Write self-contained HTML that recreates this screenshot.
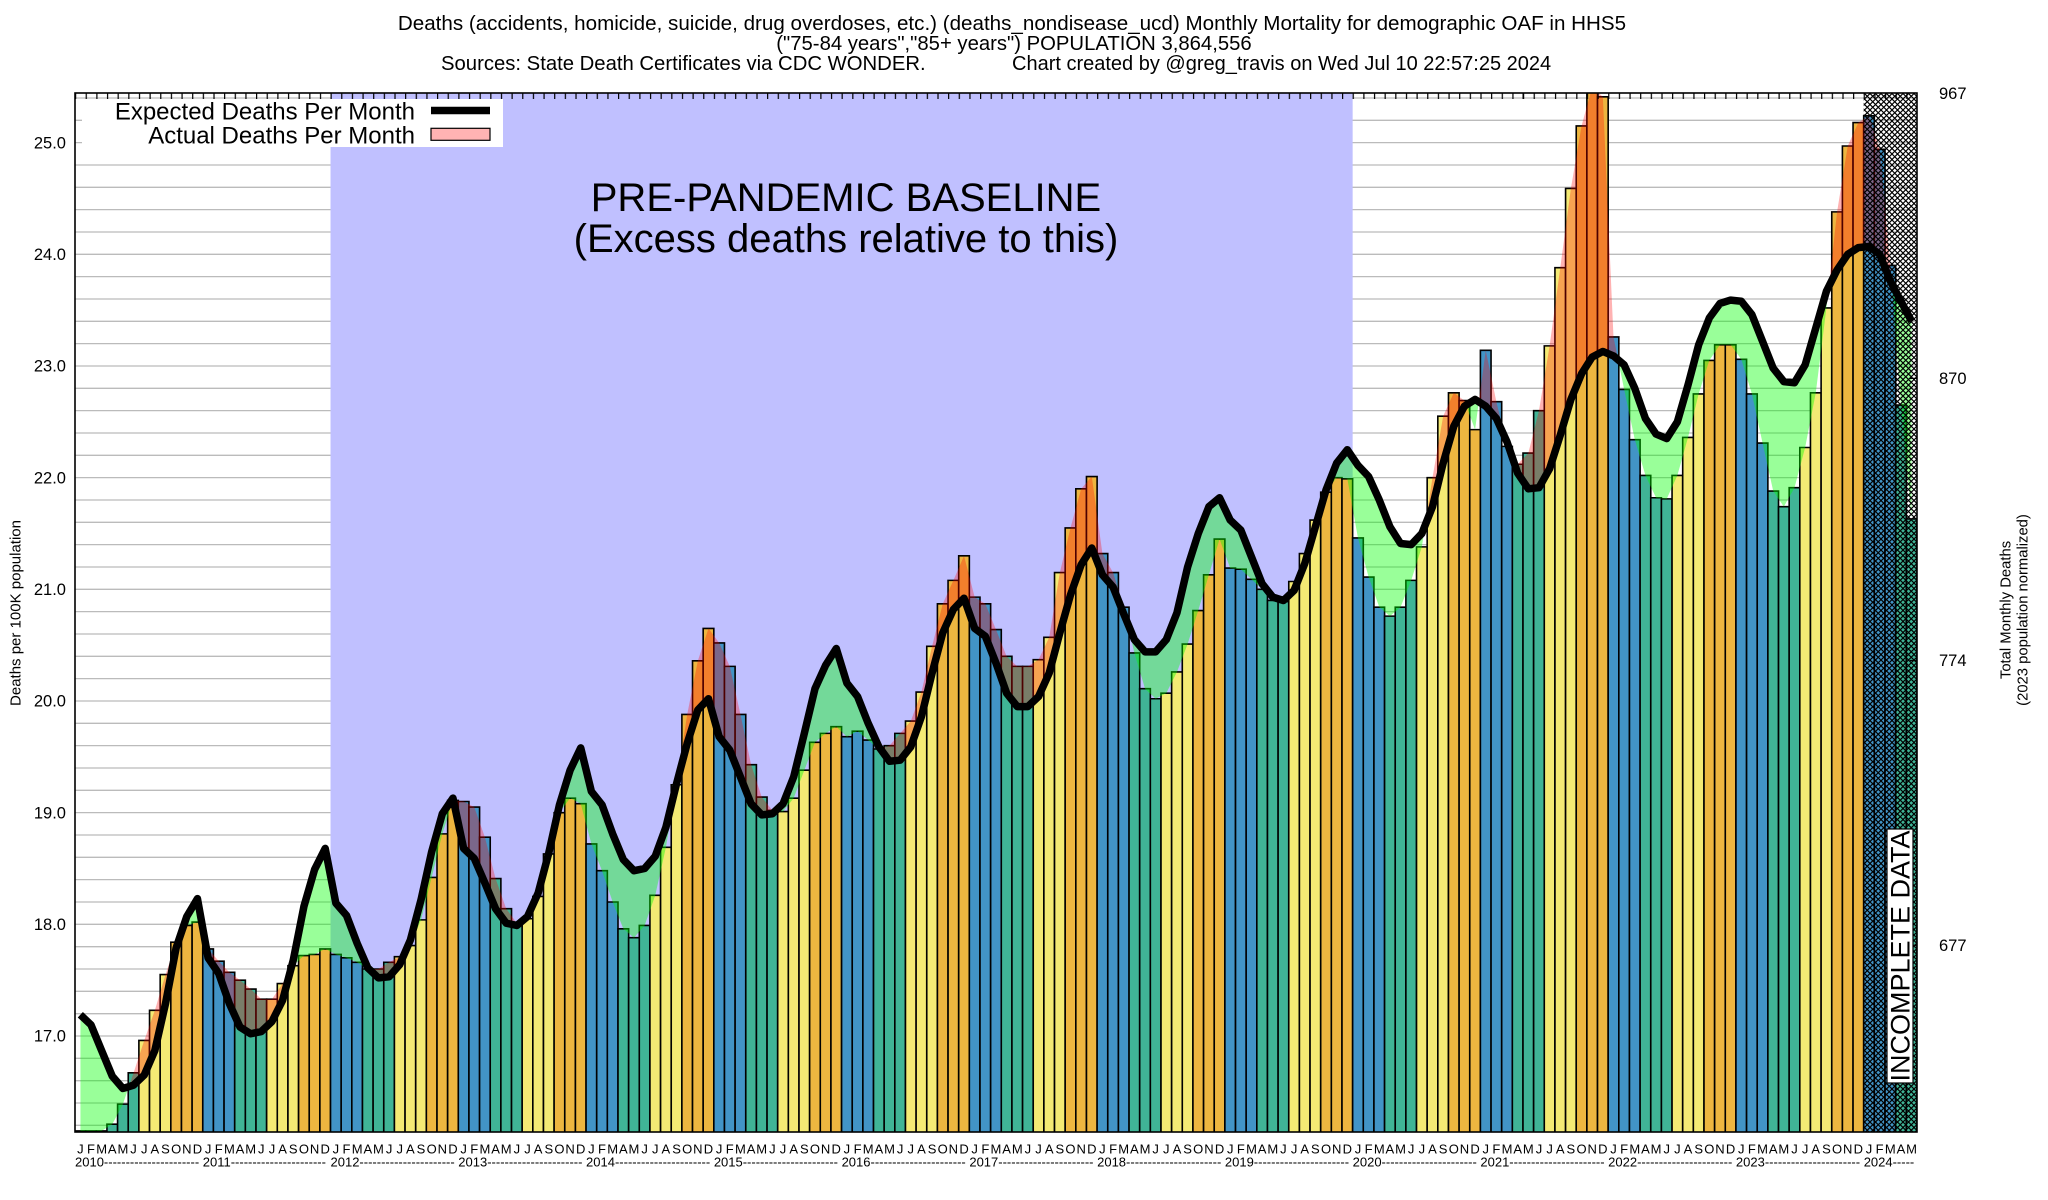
<!DOCTYPE html>
<html><head><meta charset="utf-8">
<style>
html,body{margin:0;padding:0;background:#fff;overflow:hidden;width:2048px;height:1200px;}
svg{display:block;font-family:"Liberation Sans",Arial,Helvetica,sans-serif;}
.b{fill:#4294c6}.t{fill:#40b496}.y{fill:#f4ea74}.o{fill:#edb640}
.bars rect{stroke:#000;stroke-width:1.6;vector-effect:non-scaling-stroke}
.ml{font-size:13px;text-anchor:middle}
.yr{font-size:13px}
.tl{font-size:16.5px}
</style></head><body>
<svg width="2048" height="1200" viewBox="0 0 2048 1200" xmlns="http://www.w3.org/2000/svg">
<defs>
<clipPath id="pc"><rect x="75" y="93" width="1842" height="1039"/></clipPath>
<clipPath id="aE" clipPathUnits="userSpaceOnUse"><polygon points="0.5,17.19 1.5,17.10 2.5,16.87 3.5,16.64 4.5,16.53 5.5,16.56 6.5,16.65 7.5,16.87 8.5,17.29 9.5,17.79 10.5,18.07 11.5,18.23 12.5,17.70 13.5,17.56 14.5,17.29 15.5,17.08 16.5,17.02 17.5,17.04 18.5,17.13 19.5,17.32 20.5,17.68 21.5,18.16 22.5,18.49 23.5,18.68 24.5,18.19 25.5,18.08 26.5,17.83 27.5,17.61 28.5,17.52 29.5,17.53 30.5,17.64 31.5,17.86 32.5,18.22 33.5,18.65 34.5,18.99 35.5,19.13 36.5,18.68 37.5,18.59 38.5,18.37 39.5,18.14 40.5,18.01 41.5,17.99 42.5,18.07 43.5,18.28 44.5,18.64 45.5,19.07 46.5,19.38 47.5,19.58 48.5,19.19 49.5,19.07 50.5,18.81 51.5,18.58 52.5,18.48 53.5,18.50 54.5,18.61 55.5,18.87 56.5,19.26 57.5,19.62 58.5,19.92 59.5,20.02 60.5,19.68 61.5,19.56 62.5,19.32 63.5,19.08 64.5,18.98 65.5,18.99 66.5,19.08 67.5,19.32 68.5,19.71 69.5,20.11 70.5,20.32 71.5,20.47 72.5,20.16 73.5,20.04 74.5,19.80 75.5,19.59 76.5,19.46 77.5,19.47 78.5,19.59 79.5,19.86 80.5,20.25 81.5,20.61 82.5,20.82 83.5,20.92 84.5,20.65 85.5,20.58 86.5,20.34 87.5,20.07 88.5,19.95 89.5,19.95 90.5,20.04 91.5,20.25 92.5,20.61 93.5,20.95 94.5,21.22 95.5,21.37 96.5,21.13 97.5,21.02 98.5,20.78 99.5,20.55 100.5,20.44 101.5,20.44 102.5,20.55 103.5,20.79 104.5,21.20 105.5,21.50 106.5,21.74 107.5,21.82 108.5,21.62 109.5,21.53 110.5,21.29 111.5,21.05 112.5,20.93 113.5,20.90 114.5,20.99 115.5,21.23 116.5,21.56 117.5,21.89 118.5,22.13 119.5,22.25 120.5,22.11 121.5,22.01 122.5,21.80 123.5,21.56 124.5,21.41 125.5,21.40 126.5,21.50 127.5,21.74 128.5,22.13 129.5,22.46 130.5,22.64 131.5,22.70 132.5,22.64 133.5,22.53 134.5,22.32 135.5,22.04 136.5,21.90 137.5,21.91 138.5,22.08 139.5,22.38 140.5,22.70 141.5,22.93 142.5,23.08 143.5,23.13 144.5,23.09 145.5,23.01 146.5,22.80 147.5,22.53 148.5,22.39 149.5,22.35 150.5,22.50 151.5,22.83 152.5,23.19 153.5,23.43 154.5,23.56 155.5,23.59 156.5,23.58 157.5,23.46 158.5,23.22 159.5,22.98 160.5,22.86 161.5,22.85 162.5,23.01 163.5,23.34 164.5,23.67 165.5,23.86 166.5,24.00 167.5,24.06 168.5,24.07 169.5,24.00 170.5,23.76 171.5,23.58 172.5,23.40 172.5,25.6 0.5,25.6"/></clipPath>
<clipPath id="aA" clipPathUnits="userSpaceOnUse"><polygon points="0.5,16.15 1.5,16.15 2.5,16.15 3.5,16.21 4.5,16.39 5.5,16.67 6.5,16.96 7.5,17.23 8.5,17.55 9.5,17.84 10.5,17.99 11.5,18.02 12.5,17.78 13.5,17.67 14.5,17.57 15.5,17.50 16.5,17.42 17.5,17.33 18.5,17.33 19.5,17.47 20.5,17.63 21.5,17.72 22.5,17.73 23.5,17.78 24.5,17.73 25.5,17.70 26.5,17.66 27.5,17.60 28.5,17.60 29.5,17.66 30.5,17.71 31.5,17.81 32.5,18.04 33.5,18.42 34.5,18.81 35.5,19.11 36.5,19.10 37.5,19.05 38.5,18.78 39.5,18.41 40.5,18.14 41.5,18.01 42.5,18.05 43.5,18.25 44.5,18.63 45.5,19.00 46.5,19.13 47.5,19.08 48.5,18.72 49.5,18.48 50.5,18.20 51.5,17.96 52.5,17.88 53.5,17.99 54.5,18.26 55.5,18.69 56.5,19.25 57.5,19.88 58.5,20.36 59.5,20.65 60.5,20.52 61.5,20.31 62.5,19.88 63.5,19.43 64.5,19.14 65.5,19.02 66.5,19.01 67.5,19.13 68.5,19.38 69.5,19.63 70.5,19.71 71.5,19.77 72.5,19.68 73.5,19.73 74.5,19.65 75.5,19.57 76.5,19.60 77.5,19.71 78.5,19.82 79.5,20.08 80.5,20.49 81.5,20.87 82.5,21.08 83.5,21.30 84.5,20.93 85.5,20.87 86.5,20.64 87.5,20.40 88.5,20.31 89.5,20.31 90.5,20.37 91.5,20.57 92.5,21.15 93.5,21.55 94.5,21.90 95.5,22.01 96.5,21.32 97.5,21.15 98.5,20.84 99.5,20.43 100.5,20.11 101.5,20.02 102.5,20.07 103.5,20.26 104.5,20.51 105.5,20.81 106.5,21.13 107.5,21.45 108.5,21.19 109.5,21.18 110.5,21.09 111.5,21.00 112.5,20.90 113.5,20.89 114.5,21.07 115.5,21.32 116.5,21.62 117.5,21.87 118.5,22.00 119.5,21.99 120.5,21.46 121.5,21.11 122.5,20.84 123.5,20.76 124.5,20.84 125.5,21.08 126.5,21.38 127.5,22.00 128.5,22.55 129.5,22.76 130.5,22.69 131.5,22.43 132.5,23.14 133.5,22.68 134.5,22.28 135.5,22.12 136.5,22.22 137.5,22.60 138.5,23.18 139.5,23.88 140.5,24.59 141.5,25.15 142.5,25.50 143.5,25.41 144.5,23.26 145.5,22.79 146.5,22.34 147.5,22.02 148.5,21.82 149.5,21.81 150.5,22.02 151.5,22.36 152.5,22.75 153.5,23.05 154.5,23.19 155.5,23.19 156.5,23.06 157.5,22.75 158.5,22.31 159.5,21.88 160.5,21.74 161.5,21.91 162.5,22.27 163.5,22.76 164.5,23.52 165.5,24.38 166.5,24.97 167.5,25.18 168.5,25.24 169.5,24.94 170.5,23.90 171.5,22.65 172.5,21.63 172.5,25.6 0.5,25.6"/></clipPath>
<pattern id="hatch" patternUnits="userSpaceOnUse" x="0" y="0" width="5.5" height="5.5"><path d="M-1,-1L6.5,6.5M6.5,-1L-1,6.5" stroke="#000" stroke-width="1.15"/></pattern>
<pattern id="tk" patternUnits="userSpaceOnUse" x="75" y="93" width="10.647" height="6"><rect x="0" y="0" width="1.2" height="6" fill="#000"/></pattern>
</defs>

<rect width="2048" height="1200" fill="#fff"/>

<!-- Title -->
<g fill="#000">
<text x="1012" y="30" text-anchor="middle" font-size="20.6">Deaths (accidents, homicide, suicide, drug overdoses, etc.) (deaths_nondisease_ucd) Monthly Mortality for demographic OAF in HHS5</text>
<text x="1014" y="50" text-anchor="middle" font-size="20.3">("75-84 years","85+ years") POPULATION 3,864,556</text>
<text x="441" y="70" font-size="20.3">Sources: State Death Certificates via CDC WONDER.</text>
<text x="1012" y="70" font-size="20">Chart created by @greg_travis on Wed Jul 10 22:57:25 2024</text>
</g>

<g clip-path="url(#pc)">
<g transform="matrix(10.647 0 0 -111.67 75 2934.39)">
<path fill="none" stroke="#bbbbbb" stroke-width="1.3" vector-effect="non-scaling-stroke" d="M0 16.2H173M0 16.4H173M0 16.6H173M0 16.8H173M0 17H173M0 17.2H173M0 17.4H173M0 17.6H173M0 17.8H173M0 18H173M0 18.2H173M0 18.4H173M0 18.6H173M0 18.8H173M0 19H173M0 19.2H173M0 19.4H173M0 19.6H173M0 19.8H173M0 20H173M0 20.2H173M0 20.4H173M0 20.6H173M0 20.8H173M0 21H173M0 21.2H173M0 21.4H173M0 21.6H173M0 21.8H173M0 22H173M0 22.2H173M0 22.4H173M0 22.6H173M0 22.8H173M0 23H173M0 23.2H173M0 23.4H173M0 23.6H173M0 23.8H173M0 24H173M0 24.2H173M0 24.4H173M0 24.6H173M0 24.8H173M0 25H173M0 25.2H173M0 25.4H173"/>
</g>
<rect x="330.53" y="93" width="1022.11" height="1039" fill="#c0c0ff"/>
<g transform="matrix(10.647 0 0 -111.67 75 2934.39)">
<g class="bars">
<rect class="b" x="0" y="16.1" width="1" height="0.05"/><rect class="b" x="1" y="16.1" width="1" height="0.05"/><rect class="b" x="2" y="16.1" width="1" height="0.05"/><rect class="t" x="3" y="16.1" width="1" height="0.11"/><rect class="t" x="4" y="16.1" width="1" height="0.29"/><rect class="t" x="5" y="16.1" width="1" height="0.57"/><rect class="y" x="6" y="16.1" width="1" height="0.86"/><rect class="y" x="7" y="16.1" width="1" height="1.13"/><rect class="y" x="8" y="16.1" width="1" height="1.45"/><rect class="o" x="9" y="16.1" width="1" height="1.74"/><rect class="o" x="10" y="16.1" width="1" height="1.89"/><rect class="o" x="11" y="16.1" width="1" height="1.92"/>
<rect class="b" x="12" y="16.1" width="1" height="1.68"/><rect class="b" x="13" y="16.1" width="1" height="1.57"/><rect class="b" x="14" y="16.1" width="1" height="1.47"/><rect class="t" x="15" y="16.1" width="1" height="1.40"/><rect class="t" x="16" y="16.1" width="1" height="1.32"/><rect class="t" x="17" y="16.1" width="1" height="1.23"/><rect class="y" x="18" y="16.1" width="1" height="1.23"/><rect class="y" x="19" y="16.1" width="1" height="1.37"/><rect class="y" x="20" y="16.1" width="1" height="1.53"/><rect class="o" x="21" y="16.1" width="1" height="1.62"/><rect class="o" x="22" y="16.1" width="1" height="1.63"/><rect class="o" x="23" y="16.1" width="1" height="1.68"/>
<rect class="b" x="24" y="16.1" width="1" height="1.63"/><rect class="b" x="25" y="16.1" width="1" height="1.60"/><rect class="b" x="26" y="16.1" width="1" height="1.56"/><rect class="t" x="27" y="16.1" width="1" height="1.50"/><rect class="t" x="28" y="16.1" width="1" height="1.50"/><rect class="t" x="29" y="16.1" width="1" height="1.56"/><rect class="y" x="30" y="16.1" width="1" height="1.61"/><rect class="y" x="31" y="16.1" width="1" height="1.71"/><rect class="y" x="32" y="16.1" width="1" height="1.94"/><rect class="o" x="33" y="16.1" width="1" height="2.32"/><rect class="o" x="34" y="16.1" width="1" height="2.71"/><rect class="o" x="35" y="16.1" width="1" height="3.01"/>
<rect class="b" x="36" y="16.1" width="1" height="3.00"/><rect class="b" x="37" y="16.1" width="1" height="2.95"/><rect class="b" x="38" y="16.1" width="1" height="2.68"/><rect class="t" x="39" y="16.1" width="1" height="2.31"/><rect class="t" x="40" y="16.1" width="1" height="2.04"/><rect class="t" x="41" y="16.1" width="1" height="1.91"/><rect class="y" x="42" y="16.1" width="1" height="1.95"/><rect class="y" x="43" y="16.1" width="1" height="2.15"/><rect class="y" x="44" y="16.1" width="1" height="2.53"/><rect class="o" x="45" y="16.1" width="1" height="2.90"/><rect class="o" x="46" y="16.1" width="1" height="3.03"/><rect class="o" x="47" y="16.1" width="1" height="2.98"/>
<rect class="b" x="48" y="16.1" width="1" height="2.62"/><rect class="b" x="49" y="16.1" width="1" height="2.38"/><rect class="b" x="50" y="16.1" width="1" height="2.10"/><rect class="t" x="51" y="16.1" width="1" height="1.86"/><rect class="t" x="52" y="16.1" width="1" height="1.78"/><rect class="t" x="53" y="16.1" width="1" height="1.89"/><rect class="y" x="54" y="16.1" width="1" height="2.16"/><rect class="y" x="55" y="16.1" width="1" height="2.59"/><rect class="y" x="56" y="16.1" width="1" height="3.15"/><rect class="o" x="57" y="16.1" width="1" height="3.78"/><rect class="o" x="58" y="16.1" width="1" height="4.26"/><rect class="o" x="59" y="16.1" width="1" height="4.55"/>
<rect class="b" x="60" y="16.1" width="1" height="4.42"/><rect class="b" x="61" y="16.1" width="1" height="4.21"/><rect class="b" x="62" y="16.1" width="1" height="3.78"/><rect class="t" x="63" y="16.1" width="1" height="3.33"/><rect class="t" x="64" y="16.1" width="1" height="3.04"/><rect class="t" x="65" y="16.1" width="1" height="2.92"/><rect class="y" x="66" y="16.1" width="1" height="2.91"/><rect class="y" x="67" y="16.1" width="1" height="3.03"/><rect class="y" x="68" y="16.1" width="1" height="3.28"/><rect class="o" x="69" y="16.1" width="1" height="3.53"/><rect class="o" x="70" y="16.1" width="1" height="3.61"/><rect class="o" x="71" y="16.1" width="1" height="3.67"/>
<rect class="b" x="72" y="16.1" width="1" height="3.58"/><rect class="b" x="73" y="16.1" width="1" height="3.63"/><rect class="b" x="74" y="16.1" width="1" height="3.55"/><rect class="t" x="75" y="16.1" width="1" height="3.47"/><rect class="t" x="76" y="16.1" width="1" height="3.50"/><rect class="t" x="77" y="16.1" width="1" height="3.61"/><rect class="y" x="78" y="16.1" width="1" height="3.72"/><rect class="y" x="79" y="16.1" width="1" height="3.98"/><rect class="y" x="80" y="16.1" width="1" height="4.39"/><rect class="o" x="81" y="16.1" width="1" height="4.77"/><rect class="o" x="82" y="16.1" width="1" height="4.98"/><rect class="o" x="83" y="16.1" width="1" height="5.20"/>
<rect class="b" x="84" y="16.1" width="1" height="4.83"/><rect class="b" x="85" y="16.1" width="1" height="4.77"/><rect class="b" x="86" y="16.1" width="1" height="4.54"/><rect class="t" x="87" y="16.1" width="1" height="4.30"/><rect class="t" x="88" y="16.1" width="1" height="4.21"/><rect class="t" x="89" y="16.1" width="1" height="4.21"/><rect class="y" x="90" y="16.1" width="1" height="4.27"/><rect class="y" x="91" y="16.1" width="1" height="4.47"/><rect class="y" x="92" y="16.1" width="1" height="5.05"/><rect class="o" x="93" y="16.1" width="1" height="5.45"/><rect class="o" x="94" y="16.1" width="1" height="5.80"/><rect class="o" x="95" y="16.1" width="1" height="5.91"/>
<rect class="b" x="96" y="16.1" width="1" height="5.22"/><rect class="b" x="97" y="16.1" width="1" height="5.05"/><rect class="b" x="98" y="16.1" width="1" height="4.74"/><rect class="t" x="99" y="16.1" width="1" height="4.33"/><rect class="t" x="100" y="16.1" width="1" height="4.01"/><rect class="t" x="101" y="16.1" width="1" height="3.92"/><rect class="y" x="102" y="16.1" width="1" height="3.97"/><rect class="y" x="103" y="16.1" width="1" height="4.16"/><rect class="y" x="104" y="16.1" width="1" height="4.41"/><rect class="o" x="105" y="16.1" width="1" height="4.71"/><rect class="o" x="106" y="16.1" width="1" height="5.03"/><rect class="o" x="107" y="16.1" width="1" height="5.35"/>
<rect class="b" x="108" y="16.1" width="1" height="5.09"/><rect class="b" x="109" y="16.1" width="1" height="5.08"/><rect class="b" x="110" y="16.1" width="1" height="4.99"/><rect class="t" x="111" y="16.1" width="1" height="4.90"/><rect class="t" x="112" y="16.1" width="1" height="4.80"/><rect class="t" x="113" y="16.1" width="1" height="4.79"/><rect class="y" x="114" y="16.1" width="1" height="4.97"/><rect class="y" x="115" y="16.1" width="1" height="5.22"/><rect class="y" x="116" y="16.1" width="1" height="5.52"/><rect class="o" x="117" y="16.1" width="1" height="5.77"/><rect class="o" x="118" y="16.1" width="1" height="5.90"/><rect class="o" x="119" y="16.1" width="1" height="5.89"/>
<rect class="b" x="120" y="16.1" width="1" height="5.36"/><rect class="b" x="121" y="16.1" width="1" height="5.01"/><rect class="b" x="122" y="16.1" width="1" height="4.74"/><rect class="t" x="123" y="16.1" width="1" height="4.66"/><rect class="t" x="124" y="16.1" width="1" height="4.74"/><rect class="t" x="125" y="16.1" width="1" height="4.98"/><rect class="y" x="126" y="16.1" width="1" height="5.28"/><rect class="y" x="127" y="16.1" width="1" height="5.90"/><rect class="y" x="128" y="16.1" width="1" height="6.45"/><rect class="o" x="129" y="16.1" width="1" height="6.66"/><rect class="o" x="130" y="16.1" width="1" height="6.59"/><rect class="o" x="131" y="16.1" width="1" height="6.33"/>
<rect class="b" x="132" y="16.1" width="1" height="7.04"/><rect class="b" x="133" y="16.1" width="1" height="6.58"/><rect class="b" x="134" y="16.1" width="1" height="6.18"/><rect class="t" x="135" y="16.1" width="1" height="6.02"/><rect class="t" x="136" y="16.1" width="1" height="6.12"/><rect class="t" x="137" y="16.1" width="1" height="6.50"/><rect class="y" x="138" y="16.1" width="1" height="7.08"/><rect class="y" x="139" y="16.1" width="1" height="7.78"/><rect class="y" x="140" y="16.1" width="1" height="8.49"/><rect class="o" x="141" y="16.1" width="1" height="9.05"/><rect class="o" x="142" y="16.1" width="1" height="9.40"/><rect class="o" x="143" y="16.1" width="1" height="9.31"/>
<rect class="b" x="144" y="16.1" width="1" height="7.16"/><rect class="b" x="145" y="16.1" width="1" height="6.69"/><rect class="b" x="146" y="16.1" width="1" height="6.24"/><rect class="t" x="147" y="16.1" width="1" height="5.92"/><rect class="t" x="148" y="16.1" width="1" height="5.72"/><rect class="t" x="149" y="16.1" width="1" height="5.71"/><rect class="y" x="150" y="16.1" width="1" height="5.92"/><rect class="y" x="151" y="16.1" width="1" height="6.26"/><rect class="y" x="152" y="16.1" width="1" height="6.65"/><rect class="o" x="153" y="16.1" width="1" height="6.95"/><rect class="o" x="154" y="16.1" width="1" height="7.09"/><rect class="o" x="155" y="16.1" width="1" height="7.09"/>
<rect class="b" x="156" y="16.1" width="1" height="6.96"/><rect class="b" x="157" y="16.1" width="1" height="6.65"/><rect class="b" x="158" y="16.1" width="1" height="6.21"/><rect class="t" x="159" y="16.1" width="1" height="5.78"/><rect class="t" x="160" y="16.1" width="1" height="5.64"/><rect class="t" x="161" y="16.1" width="1" height="5.81"/><rect class="y" x="162" y="16.1" width="1" height="6.17"/><rect class="y" x="163" y="16.1" width="1" height="6.66"/><rect class="y" x="164" y="16.1" width="1" height="7.42"/><rect class="o" x="165" y="16.1" width="1" height="8.28"/><rect class="o" x="166" y="16.1" width="1" height="8.87"/><rect class="o" x="167" y="16.1" width="1" height="9.08"/>
<rect class="b" x="168" y="16.1" width="1" height="9.14"/><rect class="b" x="169" y="16.1" width="1" height="8.84"/><rect class="b" x="170" y="16.1" width="1" height="7.80"/><rect class="t" x="171" y="16.1" width="1" height="6.55"/><rect class="t" x="172" y="16.1" width="1" height="5.53"/>
</g>
<!-- excess (red) where actual above expected -->
<polygon fill="#ff0000" fill-opacity="0.3" clip-path="url(#aE)" points="0.5,16.15 1.5,16.15 2.5,16.15 3.5,16.21 4.5,16.39 5.5,16.67 6.5,16.96 7.5,17.23 8.5,17.55 9.5,17.84 10.5,17.99 11.5,18.02 12.5,17.78 13.5,17.67 14.5,17.57 15.5,17.50 16.5,17.42 17.5,17.33 18.5,17.33 19.5,17.47 20.5,17.63 21.5,17.72 22.5,17.73 23.5,17.78 24.5,17.73 25.5,17.70 26.5,17.66 27.5,17.60 28.5,17.60 29.5,17.66 30.5,17.71 31.5,17.81 32.5,18.04 33.5,18.42 34.5,18.81 35.5,19.11 36.5,19.10 37.5,19.05 38.5,18.78 39.5,18.41 40.5,18.14 41.5,18.01 42.5,18.05 43.5,18.25 44.5,18.63 45.5,19.00 46.5,19.13 47.5,19.08 48.5,18.72 49.5,18.48 50.5,18.20 51.5,17.96 52.5,17.88 53.5,17.99 54.5,18.26 55.5,18.69 56.5,19.25 57.5,19.88 58.5,20.36 59.5,20.65 60.5,20.52 61.5,20.31 62.5,19.88 63.5,19.43 64.5,19.14 65.5,19.02 66.5,19.01 67.5,19.13 68.5,19.38 69.5,19.63 70.5,19.71 71.5,19.77 72.5,19.68 73.5,19.73 74.5,19.65 75.5,19.57 76.5,19.60 77.5,19.71 78.5,19.82 79.5,20.08 80.5,20.49 81.5,20.87 82.5,21.08 83.5,21.30 84.5,20.93 85.5,20.87 86.5,20.64 87.5,20.40 88.5,20.31 89.5,20.31 90.5,20.37 91.5,20.57 92.5,21.15 93.5,21.55 94.5,21.90 95.5,22.01 96.5,21.32 97.5,21.15 98.5,20.84 99.5,20.43 100.5,20.11 101.5,20.02 102.5,20.07 103.5,20.26 104.5,20.51 105.5,20.81 106.5,21.13 107.5,21.45 108.5,21.19 109.5,21.18 110.5,21.09 111.5,21.00 112.5,20.90 113.5,20.89 114.5,21.07 115.5,21.32 116.5,21.62 117.5,21.87 118.5,22.00 119.5,21.99 120.5,21.46 121.5,21.11 122.5,20.84 123.5,20.76 124.5,20.84 125.5,21.08 126.5,21.38 127.5,22.00 128.5,22.55 129.5,22.76 130.5,22.69 131.5,22.43 132.5,23.14 133.5,22.68 134.5,22.28 135.5,22.12 136.5,22.22 137.5,22.60 138.5,23.18 139.5,23.88 140.5,24.59 141.5,25.15 142.5,25.50 143.5,25.41 144.5,23.26 145.5,22.79 146.5,22.34 147.5,22.02 148.5,21.82 149.5,21.81 150.5,22.02 151.5,22.36 152.5,22.75 153.5,23.05 154.5,23.19 155.5,23.19 156.5,23.06 157.5,22.75 158.5,22.31 159.5,21.88 160.5,21.74 161.5,21.91 162.5,22.27 163.5,22.76 164.5,23.52 165.5,24.38 166.5,24.97 167.5,25.18 168.5,25.24 169.5,24.94 170.5,23.90 171.5,22.65 172.5,21.63 172.5,16.05 0.5,16.05"/>
<!-- deficit (green) where actual below expected -->
<polygon fill="#00ff00" fill-opacity="0.4" clip-path="url(#aA)" points="0.5,17.19 1.5,17.10 2.5,16.87 3.5,16.64 4.5,16.53 5.5,16.56 6.5,16.65 7.5,16.87 8.5,17.29 9.5,17.79 10.5,18.07 11.5,18.23 12.5,17.70 13.5,17.56 14.5,17.29 15.5,17.08 16.5,17.02 17.5,17.04 18.5,17.13 19.5,17.32 20.5,17.68 21.5,18.16 22.5,18.49 23.5,18.68 24.5,18.19 25.5,18.08 26.5,17.83 27.5,17.61 28.5,17.52 29.5,17.53 30.5,17.64 31.5,17.86 32.5,18.22 33.5,18.65 34.5,18.99 35.5,19.13 36.5,18.68 37.5,18.59 38.5,18.37 39.5,18.14 40.5,18.01 41.5,17.99 42.5,18.07 43.5,18.28 44.5,18.64 45.5,19.07 46.5,19.38 47.5,19.58 48.5,19.19 49.5,19.07 50.5,18.81 51.5,18.58 52.5,18.48 53.5,18.50 54.5,18.61 55.5,18.87 56.5,19.26 57.5,19.62 58.5,19.92 59.5,20.02 60.5,19.68 61.5,19.56 62.5,19.32 63.5,19.08 64.5,18.98 65.5,18.99 66.5,19.08 67.5,19.32 68.5,19.71 69.5,20.11 70.5,20.32 71.5,20.47 72.5,20.16 73.5,20.04 74.5,19.80 75.5,19.59 76.5,19.46 77.5,19.47 78.5,19.59 79.5,19.86 80.5,20.25 81.5,20.61 82.5,20.82 83.5,20.92 84.5,20.65 85.5,20.58 86.5,20.34 87.5,20.07 88.5,19.95 89.5,19.95 90.5,20.04 91.5,20.25 92.5,20.61 93.5,20.95 94.5,21.22 95.5,21.37 96.5,21.13 97.5,21.02 98.5,20.78 99.5,20.55 100.5,20.44 101.5,20.44 102.5,20.55 103.5,20.79 104.5,21.20 105.5,21.50 106.5,21.74 107.5,21.82 108.5,21.62 109.5,21.53 110.5,21.29 111.5,21.05 112.5,20.93 113.5,20.90 114.5,20.99 115.5,21.23 116.5,21.56 117.5,21.89 118.5,22.13 119.5,22.25 120.5,22.11 121.5,22.01 122.5,21.80 123.5,21.56 124.5,21.41 125.5,21.40 126.5,21.50 127.5,21.74 128.5,22.13 129.5,22.46 130.5,22.64 131.5,22.70 132.5,22.64 133.5,22.53 134.5,22.32 135.5,22.04 136.5,21.90 137.5,21.91 138.5,22.08 139.5,22.38 140.5,22.70 141.5,22.93 142.5,23.08 143.5,23.13 144.5,23.09 145.5,23.01 146.5,22.80 147.5,22.53 148.5,22.39 149.5,22.35 150.5,22.50 151.5,22.83 152.5,23.19 153.5,23.43 154.5,23.56 155.5,23.59 156.5,23.58 157.5,23.46 158.5,23.22 159.5,22.98 160.5,22.86 161.5,22.85 162.5,23.01 163.5,23.34 164.5,23.67 165.5,23.86 166.5,24.00 167.5,24.06 168.5,24.07 169.5,24.00 170.5,23.76 171.5,23.58 172.5,23.40 172.5,16.05 0.5,16.05"/>
</g>
<!-- incomplete data hatch -->
<rect x="1863.7" y="93" width="53.3" height="1039" fill="url(#hatch)"/>
<!-- expected curve -->
<g transform="matrix(10.647 0 0 -111.67 75 2934.39)">
<polyline fill="none" stroke="#000" stroke-width="7.5" stroke-linejoin="round" vector-effect="non-scaling-stroke" points="0.5,17.19 1.5,17.10 2.5,16.87 3.5,16.64 4.5,16.53 5.5,16.56 6.5,16.65 7.5,16.87 8.5,17.29 9.5,17.79 10.5,18.07 11.5,18.23 12.5,17.70 13.5,17.56 14.5,17.29 15.5,17.08 16.5,17.02 17.5,17.04 18.5,17.13 19.5,17.32 20.5,17.68 21.5,18.16 22.5,18.49 23.5,18.68 24.5,18.19 25.5,18.08 26.5,17.83 27.5,17.61 28.5,17.52 29.5,17.53 30.5,17.64 31.5,17.86 32.5,18.22 33.5,18.65 34.5,18.99 35.5,19.13 36.5,18.68 37.5,18.59 38.5,18.37 39.5,18.14 40.5,18.01 41.5,17.99 42.5,18.07 43.5,18.28 44.5,18.64 45.5,19.07 46.5,19.38 47.5,19.58 48.5,19.19 49.5,19.07 50.5,18.81 51.5,18.58 52.5,18.48 53.5,18.50 54.5,18.61 55.5,18.87 56.5,19.26 57.5,19.62 58.5,19.92 59.5,20.02 60.5,19.68 61.5,19.56 62.5,19.32 63.5,19.08 64.5,18.98 65.5,18.99 66.5,19.08 67.5,19.32 68.5,19.71 69.5,20.11 70.5,20.32 71.5,20.47 72.5,20.16 73.5,20.04 74.5,19.80 75.5,19.59 76.5,19.46 77.5,19.47 78.5,19.59 79.5,19.86 80.5,20.25 81.5,20.61 82.5,20.82 83.5,20.92 84.5,20.65 85.5,20.58 86.5,20.34 87.5,20.07 88.5,19.95 89.5,19.95 90.5,20.04 91.5,20.25 92.5,20.61 93.5,20.95 94.5,21.22 95.5,21.37 96.5,21.13 97.5,21.02 98.5,20.78 99.5,20.55 100.5,20.44 101.5,20.44 102.5,20.55 103.5,20.79 104.5,21.20 105.5,21.50 106.5,21.74 107.5,21.82 108.5,21.62 109.5,21.53 110.5,21.29 111.5,21.05 112.5,20.93 113.5,20.90 114.5,20.99 115.5,21.23 116.5,21.56 117.5,21.89 118.5,22.13 119.5,22.25 120.5,22.11 121.5,22.01 122.5,21.80 123.5,21.56 124.5,21.41 125.5,21.40 126.5,21.50 127.5,21.74 128.5,22.13 129.5,22.46 130.5,22.64 131.5,22.70 132.5,22.64 133.5,22.53 134.5,22.32 135.5,22.04 136.5,21.90 137.5,21.91 138.5,22.08 139.5,22.38 140.5,22.70 141.5,22.93 142.5,23.08 143.5,23.13 144.5,23.09 145.5,23.01 146.5,22.80 147.5,22.53 148.5,22.39 149.5,22.35 150.5,22.50 151.5,22.83 152.5,23.19 153.5,23.43 154.5,23.56 155.5,23.59 156.5,23.58 157.5,23.46 158.5,23.22 159.5,22.98 160.5,22.86 161.5,22.85 162.5,23.01 163.5,23.34 164.5,23.67 165.5,23.86 166.5,24.00 167.5,24.06 168.5,24.07 169.5,24.00 170.5,23.76 171.5,23.58 172.5,23.40"/>
</g>
</g>

<!-- frame and ticks -->
<rect x="75" y="93" width="1842" height="6" fill="url(#tk)"/>
<rect x="75" y="93" width="1842" height="1039" fill="none" stroke="#000" stroke-width="1.6"/>
<path d="M1917 378.4H1910M1917 660.5H1910M1917 945.4H1910" stroke="#000" stroke-width="1.3"/>

<!-- legend -->
<rect x="82" y="99" width="421" height="48" fill="#fff"/>
<g font-size="24" text-anchor="end">
<text x="415" y="119.5">Expected Deaths Per Month</text>
<text x="415" y="143.5">Actual Deaths Per Month</text>
</g>
<line x1="431" y1="110.5" x2="490" y2="110.5" stroke="#000" stroke-width="7.5"/>
<rect x="431" y="128.3" width="59" height="12" fill="#ffb3b3" stroke="#000" stroke-width="1.2"/>

<!-- baseline label -->
<g font-size="40" text-anchor="middle">
<text x="846" y="211">PRE-PANDEMIC BASELINE</text>
<text x="846" y="252">(Excess deaths relative to this)</text>
</g>

<!-- incomplete data -->
<rect x="1887" y="829" width="26" height="254" fill="#fff" stroke="#000" stroke-width="1.2"/>
<text transform="translate(1909.7,956) rotate(-90)" text-anchor="middle" font-size="27">INCOMPLETE DATA</text>

<!-- y axis labels -->
<g class="tl" text-anchor="end">
<text x="66" y="148.4">25.0</text>
<text x="66" y="260">24.0</text>
<text x="66" y="371.7">23.0</text>
<text x="66" y="483.4">22.0</text>
<text x="66" y="595">21.0</text>
<text x="66" y="706.7">20.0</text>
<text x="66" y="818.4">19.0</text>
<text x="66" y="930">18.0</text>
<text x="66" y="1041.7">17.0</text>
</g>
<g class="tl">
<text x="1939" y="99.2">967</text>
<text x="1939" y="384.2">870</text>
<text x="1939" y="666.2">774</text>
<text x="1939" y="951.2">677</text>
</g>
<text transform="translate(20.5,613) rotate(-90)" text-anchor="middle" font-size="15">Deaths per 100K population</text>
<text transform="translate(2010.7,610) rotate(-90)" text-anchor="middle" font-size="14.8">Total Monthly Deaths</text>
<text transform="translate(2027.7,610) rotate(-90)" text-anchor="middle" font-size="14.8">(2023 population normalized)</text>

<!-- x axis month labels -->
<g class="ml">
<text y="1153.5" x="80.32 90.97 101.62 112.26 122.91 133.56 144.20 154.85 165.50 176.14 186.79 197.44">JFMAMJJASOND</text>
<text y="1153.5" x="80.32 90.97 101.62 112.26 122.91 133.56 144.20 154.85 165.50 176.14 186.79 197.44" transform="translate(127.764,0)">JFMAMJJASOND</text>
<text y="1153.5" x="80.32 90.97 101.62 112.26 122.91 133.56 144.20 154.85 165.50 176.14 186.79 197.44" transform="translate(255.528,0)">JFMAMJJASOND</text>
<text y="1153.5" x="80.32 90.97 101.62 112.26 122.91 133.56 144.20 154.85 165.50 176.14 186.79 197.44" transform="translate(383.292,0)">JFMAMJJASOND</text>
<text y="1153.5" x="80.32 90.97 101.62 112.26 122.91 133.56 144.20 154.85 165.50 176.14 186.79 197.44" transform="translate(511.056,0)">JFMAMJJASOND</text>
<text y="1153.5" x="80.32 90.97 101.62 112.26 122.91 133.56 144.20 154.85 165.50 176.14 186.79 197.44" transform="translate(638.82,0)">JFMAMJJASOND</text>
<text y="1153.5" x="80.32 90.97 101.62 112.26 122.91 133.56 144.20 154.85 165.50 176.14 186.79 197.44" transform="translate(766.584,0)">JFMAMJJASOND</text>
<text y="1153.5" x="80.32 90.97 101.62 112.26 122.91 133.56 144.20 154.85 165.50 176.14 186.79 197.44" transform="translate(894.348,0)">JFMAMJJASOND</text>
<text y="1153.5" x="80.32 90.97 101.62 112.26 122.91 133.56 144.20 154.85 165.50 176.14 186.79 197.44" transform="translate(1022.112,0)">JFMAMJJASOND</text>
<text y="1153.5" x="80.32 90.97 101.62 112.26 122.91 133.56 144.20 154.85 165.50 176.14 186.79 197.44" transform="translate(1149.876,0)">JFMAMJJASOND</text>
<text y="1153.5" x="80.32 90.97 101.62 112.26 122.91 133.56 144.20 154.85 165.50 176.14 186.79 197.44" transform="translate(1277.64,0)">JFMAMJJASOND</text>
<text y="1153.5" x="80.32 90.97 101.62 112.26 122.91 133.56 144.20 154.85 165.50 176.14 186.79 197.44" transform="translate(1405.404,0)">JFMAMJJASOND</text>
<text y="1153.5" x="80.32 90.97 101.62 112.26 122.91 133.56 144.20 154.85 165.50 176.14 186.79 197.44" transform="translate(1533.168,0)">JFMAMJJASOND</text>
<text y="1153.5" x="80.32 90.97 101.62 112.26 122.91 133.56 144.20 154.85 165.50 176.14 186.79 197.44" transform="translate(1660.932,0)">JFMAMJJASOND</text>
<text y="1153.5" x="80.32 90.97 101.62 112.26 122.91" transform="translate(1788.696,0)">JFMAM</text>
</g>
<g class="yr">
<text x="75" y="1166.5">2010----------------------</text>
<text x="202.76" y="1166.5">2011----------------------</text>
<text x="330.53" y="1166.5">2012----------------------</text>
<text x="458.29" y="1166.5">2013----------------------</text>
<text x="586.06" y="1166.5">2014----------------------</text>
<text x="713.82" y="1166.5">2015----------------------</text>
<text x="841.58" y="1166.5">2016----------------------</text>
<text x="969.35" y="1166.5">2017----------------------</text>
<text x="1097.11" y="1166.5">2018----------------------</text>
<text x="1224.88" y="1166.5">2019----------------------</text>
<text x="1352.64" y="1166.5">2020----------------------</text>
<text x="1480.40" y="1166.5">2021----------------------</text>
<text x="1608.17" y="1166.5">2022----------------------</text>
<text x="1735.93" y="1166.5">2023----------------------</text>
<text x="1863.70" y="1166.5">2024-----</text>
</g>
</svg>
</body></html>
